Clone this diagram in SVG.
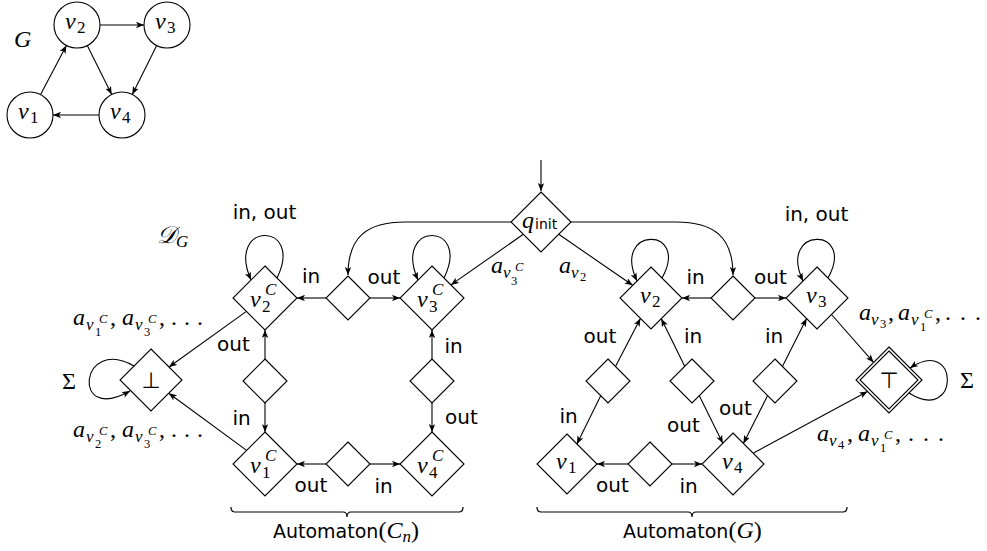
<svg xmlns="http://www.w3.org/2000/svg" width="987" height="551" viewBox="0 0 987 551">
<style>
.nd { fill: #fff; stroke: #000; stroke-width: 1.1; }
.m { font-family: "Liberation Serif", serif; font-style: italic; font-size: 24px; fill: #000; }
.r { font-style: normal; }
.s1 { font-size: 17px; }
.s2 { font-size: 12.5px; }
.sans { font-family: "DejaVu Sans", sans-serif; font-size: 20px; fill: #000; }
.sub { font-family: "DejaVu Sans", sans-serif; font-size: 14px; font-style: normal; }
.sym { font-family: "DejaVu Sans", sans-serif; font-size: 22px; fill: #000; }
.lbl { text-anchor: middle; }
.brace { fill: none; stroke: #000; stroke-width: 1.2; }
</style>
<defs>
<marker id="arr" viewBox="0 0 10 8" refX="10" refY="4" markerWidth="8" markerHeight="6.4" markerUnits="userSpaceOnUse" orient="auto">
<path d="M0,0 L10,4 L0,8 L2.5,4 Z" fill="#000"/>
</marker>
</defs>
<rect width="987" height="551" fill="#fff"/>

<!-- Graph G -->
<text class="m" x="14" y="47">G</text>
<g id="G-v2"><circle class="nd" cx="77" cy="25" r="23"/><text class="m"><tspan x="65" y="29">v</tspan><tspan class="r s1" x="77" y="33">2</tspan></text></g>
<g id="G-v3"><circle class="nd" cx="167" cy="25" r="23"/><text class="m"><tspan x="155" y="29">v</tspan><tspan class="r s1" x="167" y="33">3</tspan></text></g>
<g id="G-v1"><circle class="nd" cx="30" cy="115" r="23"/><text class="m"><tspan x="18" y="119">v</tspan><tspan class="r s1" x="30" y="123">1</tspan></text></g>
<g id="G-v4"><circle class="nd" cx="122" cy="115" r="23"/><text class="m"><tspan x="110" y="119">v</tspan><tspan class="r s1" x="122" y="123">4</tspan></text></g>

<!-- D_G label -->
<text class="m"><tspan x="157" y="243">𝒟</tspan><tspan class="s1" x="176" y="247">G</tspan></text>

<!-- Nodes of D_G -->
<g id="q-init"><polygon class="nd" points="541,192 571,222 541,252 511,222"/><text class="m"><tspan x="522" y="228">q</tspan><tspan class="sub" x="535" y="229">init</tspan></text></g>

<g id="v2C"><polygon class="nd" points="265,266 297,298 265,330 233,298"/><text class="m"><tspan x="250" y="307">v</tspan><tspan class="s1" x="265" y="295">C</tspan><tspan class="r s1" x="262" y="312">2</tspan></text></g>
<g id="v3C"><polygon class="nd" points="432,266 464,298 432,330 400,298"/><text class="m"><tspan x="417" y="307">v</tspan><tspan class="s1" x="432" y="295">C</tspan><tspan class="r s1" x="429" y="312">3</tspan></text></g>
<g id="v1C"><polygon class="nd" points="265,432 297,464 265,496 233,464"/><text class="m"><tspan x="250" y="473">v</tspan><tspan class="s1" x="265" y="461">C</tspan><tspan class="r s1" x="262" y="478">1</tspan></text></g>
<g id="v4C"><polygon class="nd" points="432,432 464,464 432,496 400,464"/><text class="m"><tspan x="417" y="473">v</tspan><tspan class="s1" x="432" y="461">C</tspan><tspan class="r s1" x="429" y="478">4</tspan></text></g>
<g id="bottom"><polygon class="nd" points="151,349 182,380 151,411 120,380"/><text class="sym" x="151" y="388" text-anchor="middle">⊥</text></g>

<g id="sL-top"><polygon class="nd" points="348,276 370,298 348,320 326,298"/></g>
<g id="sL-left"><polygon class="nd" points="265,359 287,381 265,403 243,381"/></g>
<g id="sL-bottom"><polygon class="nd" points="348,442 370,464 348,486 326,464"/></g>
<g id="sL-right"><polygon class="nd" points="432,359 454,381 432,403 410,381"/></g>

<g id="v2"><polygon class="nd" points="651,267 682,298 651,329 620,298"/><text class="m"><tspan x="640" y="303">v</tspan><tspan class="r s1" x="652" y="307">2</tspan></text></g>
<g id="v3"><polygon class="nd" points="817,267 848,298 817,329 786,298"/><text class="m"><tspan x="806" y="303">v</tspan><tspan class="r s1" x="818" y="307">3</tspan></text></g>
<g id="v1"><polygon class="nd" points="567,434 597,464 567,494 537,464"/><text class="m"><tspan x="556" y="469">v</tspan><tspan class="r s1" x="568" y="473">1</tspan></text></g>
<g id="v4"><polygon class="nd" points="733,433 764,464 733,495 702,464"/><text class="m"><tspan x="722" y="469">v</tspan><tspan class="r s1" x="734" y="473">4</tspan></text></g>
<g id="top"><polygon class="nd" points="889,347 922,380 889,413 856,380"/><polygon class="nd" points="889,351 918,380 889,409 860,380"/><text class="sym" x="889" y="388" text-anchor="middle">⊤</text></g>

<g id="sR-top"><polygon class="nd" points="733,276 755,298 733,320 711,298"/></g>
<g id="sR-a"><polygon class="nd" points="608,359 630,381 608,403 586,381"/></g>
<g id="sR-b"><polygon class="nd" points="692,359 714,381 692,403 670,381"/></g>
<g id="sR-c"><polygon class="nd" points="775,359 797,381 775,403 753,381"/></g>
<g id="sR-bottom"><polygon class="nd" points="650,442 672,464 650,486 628,464"/></g>

<!-- Connectors -->
<g id="connectors" fill="none" stroke="#000" stroke-width="1.1" marker-end="url(#arr)">
<line x1="100" y1="25" x2="144" y2="25"/>
<line x1="87.3" y1="45.6" x2="111.7" y2="94.4"/>
<line x1="156.7" y1="45.6" x2="132.3" y2="94.4"/>
<line x1="99" y1="115" x2="53" y2="115"/>
<line x1="40.6" y1="94.6" x2="66.4" y2="45.4"/>

<line x1="541" y1="160" x2="541" y2="191"/>
<path d="M511,222 L405,222 C368,222 348,236 348,275"/>
<path d="M571,222 L676,222 C713,222 733,236 733,275"/>
<line x1="523.3" y1="234.3" x2="450.9" y2="284.9"/>
<line x1="558.7" y1="234.3" x2="632.7" y2="285.3"/>

<line x1="326" y1="298" x2="297" y2="298"/>
<line x1="370" y1="298" x2="400" y2="298"/>
<line x1="265" y1="359" x2="265" y2="330"/>
<line x1="265" y1="403" x2="265" y2="432"/>
<line x1="326" y1="464" x2="297" y2="464"/>
<line x1="370" y1="464" x2="400" y2="464"/>
<line x1="432" y1="359" x2="432" y2="330"/>
<line x1="432" y1="403" x2="432" y2="432"/>
<line x1="246.4" y1="311.4" x2="169" y2="367"/>
<line x1="246.6" y1="450.4" x2="168.8" y2="393.2"/>
<path d="M277,278 C305,221 225,221 251,280"/>
<path d="M444,278 C472,221 392,221 418,280"/>
<path d="M134,366 C80,335 70,425 130,391"/>

<line x1="711" y1="298" x2="682" y2="298"/>
<line x1="755" y1="298" x2="786" y2="298"/>
<line x1="628" y1="464" x2="597" y2="464"/>
<line x1="672" y1="464" x2="702" y2="464"/>
<line x1="615.5" y1="366.5" x2="640.4" y2="318.4"/>
<line x1="684.7" y1="366.3" x2="661.3" y2="318.8"/>
<line x1="600.7" y1="395.7" x2="576.9" y2="443.9"/>
<line x1="699.3" y1="395.7" x2="722.8" y2="443.3"/>
<line x1="782.4" y1="366.4" x2="806.6" y2="318.6"/>
<line x1="767.6" y1="395.6" x2="743.4" y2="443.4"/>
<line x1="831.5" y1="314.5" x2="873.6" y2="362.4"/>
<line x1="753.1" y1="453.2" x2="867.5" y2="391.6"/>
<path d="M662,278 C691,226 611,226 637,281"/>
<path d="M828,278 C857,226 777,226 803,281"/>
<path d="M909,393 C960,425 960,335 910,368"/>
</g>

<!-- Edge labels -->
<g id="edge-labels">
<text class="sans lbl" x="264.5" y="219">in, out</text>
<text class="sans lbl" x="311" y="283">in</text>
<text class="sans lbl" x="384" y="284">out</text>
<text class="sans lbl" x="233.5" y="351">out</text>
<text class="sans lbl" x="241.5" y="425">in</text>
<text class="sans lbl" x="311" y="492">out</text>
<text class="sans lbl" x="383.5" y="493">in</text>
<text class="sans lbl" x="453.5" y="353">in</text>
<text class="sans lbl" x="461.5" y="424">out</text>

<text class="sans lbl" x="816.5" y="221">in, out</text>
<text class="sans lbl" x="695.5" y="284">in</text>
<text class="sans lbl" x="770.5" y="284">out</text>
<text class="sans lbl" x="600" y="343">out</text>
<text class="sans lbl" x="693" y="343">in</text>
<text class="sans lbl" x="774" y="343">in</text>
<text class="sans lbl" x="568.5" y="423">in</text>
<text class="sans lbl" x="683.5" y="432">out</text>
<text class="sans lbl" x="735.5" y="415">out</text>
<text class="sans lbl" x="612.5" y="492">out</text>
<text class="sans lbl" x="688.5" y="493">in</text>

<text class="m"><tspan x="491" y="273">a</tspan><tspan class="s1" x="503" y="278">v</tspan><tspan class="s2" x="515" y="271">C</tspan><tspan class="r s2" x="511" y="285">3</tspan></text>
<text class="m"><tspan x="559" y="273">a</tspan><tspan class="s1" x="571" y="278">v</tspan><tspan class="r s2" x="580" y="281">2</tspan></text>

<text class="m"><tspan x="73" y="325">a</tspan><tspan class="s1" x="86" y="330">v</tspan><tspan class="s2" x="99" y="323">C</tspan><tspan class="r s2" x="95" y="336">1</tspan><tspan class="r" x="110" y="325">,</tspan><tspan x="122" y="325">a</tspan><tspan class="s1" x="135" y="330">v</tspan><tspan class="s2" x="148" y="323">C</tspan><tspan class="r s2" x="144" y="336">3</tspan><tspan class="r" x="159" y="325">,</tspan><tspan class="r" x="171" y="325">.</tspan><tspan class="r" x="184" y="325">.</tspan><tspan class="r" x="197" y="325">.</tspan></text>

<text class="m"><tspan x="73" y="437">a</tspan><tspan class="s1" x="86" y="442">v</tspan><tspan class="s2" x="99" y="435">C</tspan><tspan class="r s2" x="95" y="448">2</tspan><tspan class="r" x="110" y="437">,</tspan><tspan x="122" y="437">a</tspan><tspan class="s1" x="135" y="442">v</tspan><tspan class="s2" x="148" y="435">C</tspan><tspan class="r s2" x="144" y="448">3</tspan><tspan class="r" x="159" y="437">,</tspan><tspan class="r" x="171" y="437">.</tspan><tspan class="r" x="184" y="437">.</tspan><tspan class="r" x="197" y="437">.</tspan></text>

<text class="m"><tspan x="859" y="320">a</tspan><tspan class="s1" x="871" y="325">v</tspan><tspan class="r s2" x="880" y="328">3</tspan><tspan class="r" x="888" y="320">,</tspan><tspan x="898" y="320">a</tspan><tspan class="s1" x="911" y="325">v</tspan><tspan class="s2" x="924" y="318">C</tspan><tspan class="r s2" x="920" y="331">1</tspan><tspan class="r" x="935" y="320">,</tspan><tspan class="r" x="945" y="320">.</tspan><tspan class="r" x="960" y="320">.</tspan><tspan class="r" x="975" y="320">.</tspan></text>

<text class="m"><tspan x="817" y="441">a</tspan><tspan class="s1" x="829" y="446">v</tspan><tspan class="r s2" x="838" y="449">4</tspan><tspan class="r" x="847" y="441">,</tspan><tspan x="858" y="441">a</tspan><tspan class="s1" x="871" y="446">v</tspan><tspan class="s2" x="884" y="439">C</tspan><tspan class="r s2" x="880" y="452">1</tspan><tspan class="r" x="895" y="441">,</tspan><tspan class="r" x="908" y="441">.</tspan><tspan class="r" x="923" y="441">.</tspan><tspan class="r" x="938" y="441">.</tspan></text>

<text class="m r" x="62" y="389">Σ</text>
<text class="m r" x="960" y="388">Σ</text>
</g>

<!-- Braces -->
<g id="braces">
<path class="brace" d="M231,507 Q231,512 235,512 L343,512 Q347,512 347,517 Q347,512 351,512 L459,512 Q463,512 463,507"/>
<path class="brace" d="M537,507 Q537,512 541,512 L688,512 Q692,512 692,517 Q692,512 696,512 L843,512 Q847,512 847,507"/>
<text x="273" y="538"><tspan class="sans" style="font-size:19px">Automaton</tspan><tspan class="m r">(</tspan><tspan class="m">C</tspan><tspan class="m s1" dy="4">n</tspan><tspan class="m r" dy="-4">)</tspan></text>
<text x="623" y="538"><tspan class="sans" style="font-size:19px">Automaton</tspan><tspan class="m r">(</tspan><tspan class="m">G</tspan><tspan class="m r">)</tspan></text>
</g>
</svg>
